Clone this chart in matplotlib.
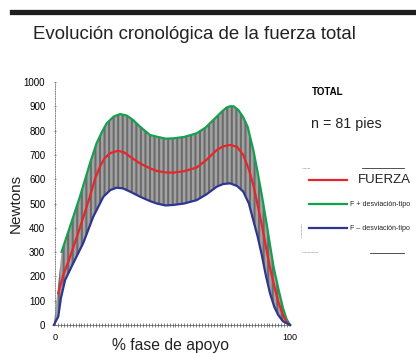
import numpy as np
import matplotlib.pyplot as plt
from matplotlib.lines import Line2D

plt.rcParams['font.family'] = ['Liberation Sans', 'DejaVu Sans']
plt.rcParams['hatch.linewidth'] = 0.5

# Curvas (% fase de apoyo, Newtons)
x_plus = [2.8, 6.4, 10.6, 14.9, 17.7, 20.0, 22.0, 25.0, 27.7, 30.5, 33.3, 36.2,
          40.4, 43.3, 47.0, 50.3, 55.0, 60.3, 64.0, 67.4, 71.0, 73.0, 74.5,
          76.0, 78.0, 80.1, 82.0, 84.4, 86.0, 88.0, 90.0, 91.5, 93.0, 95.0,
          97.0, 98.5, 100.0]
f_plus = [301, 405, 528, 666, 748, 795, 830, 858, 868, 862, 843, 816,
          782, 775, 767, 768, 774, 789, 812, 844, 878, 895, 900,
          900, 885, 855, 815, 720, 640, 535, 420, 329, 240, 151,
          70, 25, 0]

x_mean = [1.4, 3.5, 6.4, 10.6, 14.9, 17.0, 19.1, 21.0, 23.4, 26.8, 29.5, 31.9,
          36.2, 40.4, 43.3, 47.0, 50.3, 55.0, 60.3, 64.5, 68.8, 71.5, 74.5,
          77.5, 80.1, 82.5, 84.4, 86.2, 88.0, 89.7, 91.5, 93.3, 95.0, 97.0,
          98.5, 100.0]
f_mean = [131, 205, 280, 400, 530, 600, 651, 685, 707, 717, 710, 693,
          665, 645, 634, 628, 627, 633, 648, 680, 720, 735, 741,
          733, 700, 640, 576, 495, 412, 325, 235, 160, 96, 40,
          12, 0]

x_minus = [-0.5, 1.4, 2.5, 4.3, 7.8, 12.0, 16.3, 20.6, 23.5, 26.2, 29.0, 31.9,
           36.2, 40.4, 43.3, 47.0, 50.3, 55.0, 60.3, 64.5, 68.8, 71.5, 74.5,
           77.5, 80.1, 82.5, 84.4, 86.2, 88.0, 89.7, 91.5, 93.3, 95.0, 97.0,
           100.0]
f_minus = [0, 35, 110, 185, 255, 337, 446, 528, 555, 565, 562, 549,
           528, 510, 500, 492, 494, 500, 514, 538, 569, 580, 583,
           572, 549, 500, 430, 365, 288, 205, 130, 75, 41, 15,
           0]

col_mean = '#e8262a'
col_plus = '#14a04e'
col_minus = '#2e3592'

fig = plt.figure(figsize=(4.16, 3.53), dpi=100)
ax = fig.add_axes([55 / 416, 28 / 353, 235 / 416, 243 / 353])

# zona rayada entre F+ y F-
poly_x = np.concatenate([x_plus, x_minus[::-1]])
poly_y = np.concatenate([f_plus, f_minus[::-1]])
ax.fill(poly_x, poly_y, facecolor='#f4f4f4', edgecolor='#303030',
        hatch='|' * 13, linewidth=0, zorder=1, clip_on=False)

ax.plot(x_plus, f_plus, color=col_plus, lw=1.6, zorder=3, clip_on=False)
ax.plot(x_mean, f_mean, color=col_mean, lw=1.6, zorder=3, clip_on=False)
ax.plot(x_minus, f_minus, color=col_minus, lw=1.6, zorder=3, clip_on=False)

ax.set_xlim(0, 100)
ax.set_ylim(0, 1000)
ax.set_yticks(range(0, 1001, 100))
ax.set_xticks([0, 100])
ax.set_xticks(np.arange(0, 100.1, 1.25), minor=True)
ax.tick_params(axis='y', labelsize=7, length=2, width=0.6, color='#666666',
               pad=6, direction='inout')
ax.tick_params(axis='x', which='major', labelsize=6.5, length=0, pad=6)
ax.tick_params(axis='x', which='minor', length=3, width=0.5,
               color='#555555', direction='inout')

for s in ['top', 'right']:
    ax.spines[s].set_visible(False)
ax.spines['left'].set_linestyle((0, (1, 1.5)))
ax.spines['left'].set_color('#888888')
ax.spines['left'].set_linewidth(0.7)
ax.spines['bottom'].set_color('#555555')
ax.spines['bottom'].set_linewidth(0.5)
ax.spines['bottom'].set_linestyle((0, (2, 1)))

# barra superior y textos
fig.add_artist(Line2D([12 / 416, 1], [1 - 12 / 353, 1 - 12 / 353],
                      color='#1e1e1e', lw=3.8))
fig.text(33 / 416, 1 - 39 / 353, 'Evolución cronológica de la fuerza total',
         fontsize=13.4, color='#222222', va='baseline', ha='left')
fig.text(16 / 416, 1 - 203 / 353, 'Newtons', rotation=90, fontsize=11,
         ha='center', va='center', color='#222222')
fig.text(171 / 416, 1 - 350 / 353, '% fase de apoyo', fontsize=11.3,
         ha='center', va='baseline', color='#222222')

fig.text(312 / 416, 1 - 95 / 353, 'TOTAL', fontsize=7, fontweight='bold',
         ha='left', va='baseline')
fig.text(311 / 416, 1 - 128 / 353, 'n = 81 pies', fontsize=10.3,
         ha='left', va='baseline', color='#222222')

# leyenda
leg_items = [(180, col_mean, 'FUERZA', 9.5, 358),
             (204, col_plus, 'F + desviación-tipo', 5.1, 350),
             (228, col_minus, 'F – desviación-tipo', 5.1, 350)]
for y, c, lab, fs, xt in leg_items:
    fig.add_artist(Line2D([309 / 416, 347 / 416], [1 - y / 353, 1 - y / 353],
                          color=c, lw=1.6))
    fig.text(xt / 416, 1 - y / 353, lab, fontsize=fs,
             ha='left', va='center', color='#222222')

# restos del marco de la leyenda
fig.add_artist(Line2D([302 / 416, 310 / 416], [1 - 168 / 353] * 2,
                      color='#777777', lw=0.5, ls=(0, (1, 1))))
fig.add_artist(Line2D([362 / 416, 404 / 416], [1 - 168 / 353] * 2,
                      color='#333333', lw=0.6))
fig.add_artist(Line2D([301 / 416, 301 / 416], [1 - 224 / 353, 1 - 238 / 353],
                      color='#777777', lw=0.5, ls=(0, (1, 1))))
fig.add_artist(Line2D([302 / 416, 318 / 416], [1 - 252 / 353] * 2,
                      color='#777777', lw=0.5, ls=(0, (1, 1))))
fig.add_artist(Line2D([370 / 416, 404 / 416], [1 - 253 / 353] * 2,
                      color='#333333', lw=0.6))

fig.savefig('out.png', dpi=100)
